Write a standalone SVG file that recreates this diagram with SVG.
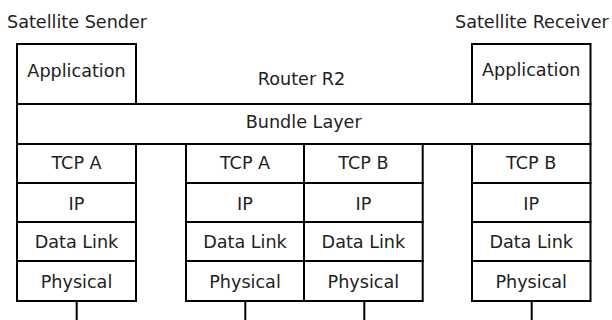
<svg xmlns="http://www.w3.org/2000/svg" width="612" height="320" viewBox="0 0 612 320">
<style>
.b{fill:#fff;stroke:#000;stroke-width:2;stroke-linejoin:miter}
.t{font-family:"DejaVu Sans",sans-serif;font-size:17.6px;fill:#222;text-anchor:middle}
.l{font-family:"DejaVu Sans",sans-serif;font-size:17.6px;fill:#222}
.c{stroke:#000;stroke-width:2;fill:none}
</style>
<rect width="612" height="320" fill="#fff"/>
<text class="l" x="7" y="28">Satellite Sender</text>
<text class="l" x="455" y="28">Satellite Receiver</text>
<text class="t" x="301.5" y="85">Router R2</text>
<g id="sender-app"><rect class="b" x="17" y="44" width="119" height="60"/><text class="t" x="76.5" y="77">Application</text></g>
<g id="receiver-app"><rect class="b" x="472" y="44" width="118.5" height="60"/><text class="t" x="531.2" y="76">Application</text></g>
<g id="bundle"><rect class="b" x="17" y="104" width="573.5" height="40"/><text class="t" x="303.7" y="128">Bundle Layer</text></g>
<g id="sender-stack">
<rect class="b" x="17" y="144" width="119" height="39"/><text class="t" x="76.5" y="168.5">TCP A</text>
<rect class="b" x="17" y="183" width="119" height="39"/><text class="t" x="76.5" y="210">IP</text>
<rect class="b" x="17" y="222" width="119" height="39"/><text class="t" x="76.5" y="248.3">Data Link</text>
<rect class="b" x="17" y="261" width="119" height="40"/><text class="t" x="76.5" y="288.3">Physical</text>
</g>
<g id="router-a">
<rect class="b" x="186" y="144" width="118" height="39"/><text class="t" x="245" y="168.5">TCP A</text>
<rect class="b" x="186" y="183" width="118" height="39"/><text class="t" x="245" y="210">IP</text>
<rect class="b" x="186" y="222" width="118" height="39"/><text class="t" x="245" y="248.3">Data Link</text>
<rect class="b" x="186" y="261" width="118" height="40"/><text class="t" x="245" y="288.3">Physical</text>
</g>
<g id="router-b">
<rect class="b" x="304" y="144" width="118.7" height="39"/><text class="t" x="363.4" y="168.5">TCP B</text>
<rect class="b" x="304" y="183" width="118.7" height="39"/><text class="t" x="363.4" y="210">IP</text>
<rect class="b" x="304" y="222" width="118.7" height="39"/><text class="t" x="363.4" y="248.3">Data Link</text>
<rect class="b" x="304" y="261" width="118.7" height="40"/><text class="t" x="363.4" y="288.3">Physical</text>
</g>
<g id="receiver-stack">
<rect class="b" x="472" y="144" width="118.5" height="39"/><text class="t" x="531.2" y="168.5">TCP B</text>
<rect class="b" x="472" y="183" width="118.5" height="39"/><text class="t" x="531.2" y="210">IP</text>
<rect class="b" x="472" y="222" width="118.5" height="39"/><text class="t" x="531.2" y="248.3">Data Link</text>
<rect class="b" x="472" y="261" width="118.5" height="40"/><text class="t" x="531.2" y="288.3">Physical</text>
</g>
<g id="connectors">
<line class="c" x1="76.7" y1="301" x2="76.7" y2="320"/>
<line class="c" x1="245.3" y1="301" x2="245.3" y2="320"/>
<line class="c" x1="364.3" y1="301" x2="364.3" y2="320"/>
<line class="c" x1="531.7" y1="301" x2="531.7" y2="320"/>
</g>
</svg>
